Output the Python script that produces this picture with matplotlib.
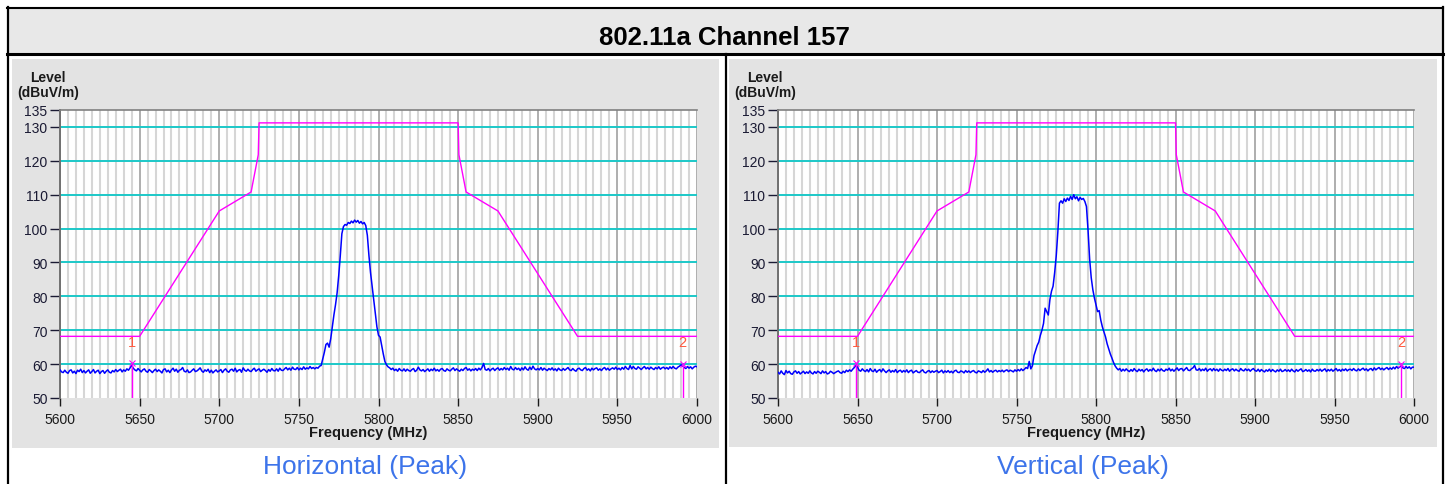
import numpy as np
import matplotlib
matplotlib.use("Agg")
from matplotlib import pyplot as plt
from matplotlib.patches import Rectangle
from matplotlib.ticker import MultipleLocator

plt.rcParams['font.family'] = ['Liberation Sans', 'DejaVu Sans']

W, H = 1451, 485

title = "802.11a Channel 157"
captions = ["Horizontal (Peak)", "Vertical (Peak)"]

# frequency axis of the traces, 1 MHz steps
freq = np.arange(5600, 6001, 1)

# horizontal polarisation trace (dBuV/m)
horiz = [
    58.3, 57.7, 57.5, 58.2, 57.6, 57.3, 58.1, 58.3, 57.4, 57.9, 57.2, 58.2, 57.8, 58.5, 57.5, 58.1, 57.4, 57.9, 58.3, 57.3,
    57.8, 58.4, 57.4, 57.9, 58.2, 57.2, 57.8, 58.1, 57.3, 57.9, 58.3, 57.6, 57.4, 58.1, 57.7, 58.4, 57.8, 58.2, 58.5, 57.7,
    58.3, 57.9, 58.6, 58.2, 58.9, 59.7, 58.8, 58.3, 58.0, 58.7, 58.2, 57.7, 58.3, 58.6, 57.9, 57.6, 58.4, 58.0, 57.5, 58.1,
    58.5, 57.8, 58.3, 57.9, 57.4, 58.4, 58.6, 57.7, 58.2, 57.5, 58.3, 58.8, 57.9, 58.5, 57.6, 58.2, 58.4, 59.0, 57.9, 57.7,
    58.3, 57.5, 57.7, 58.2, 58.6, 57.8, 58.0, 58.4, 58.9, 58.0, 57.6, 58.3, 57.9, 58.5, 57.5, 58.2, 57.4, 57.9, 58.3, 57.7,
    58.0, 58.4, 57.5, 58.2, 58.6, 57.9, 57.6, 58.3, 58.5, 57.9, 58.8, 57.7, 58.2, 58.4, 57.6, 58.9, 58.2, 57.9, 58.5, 58.0,
    57.8, 58.4, 58.8, 57.9, 58.3, 58.6, 57.8, 58.2, 58.5, 58.1, 57.6, 58.4, 57.9, 58.7, 58.1, 58.0, 58.6, 57.9, 58.8, 58.2,
    58.1, 58.6, 59.0, 58.3, 58.8, 58.2, 59.1, 58.5, 58.4, 59.0, 58.3, 58.8, 58.4, 59.2, 58.5, 58.9, 58.6, 59.3, 58.7, 59.0,
    58.6, 59.0, 58.8, 59.4, 59.6, 61.5, 63.5, 65.8, 66.2, 65.0, 67.5, 71.0, 74.5, 77.5, 81.0, 86.0, 92.0, 98.5, 100.6, 101.2,
    101.0, 101.8, 101.5, 102.2, 101.7, 102.5, 101.9, 102.4, 101.6, 102.1, 101.4, 101.8, 100.9, 98.0, 92.0, 87.0, 83.0, 79.0, 75.0, 71.0,
    68.5, 68.0, 65.5, 63.0, 60.8, 59.8, 59.2, 58.9, 58.4, 58.8, 58.1, 58.5, 57.9, 58.7, 58.2, 58.0, 58.6, 57.9, 58.5, 58.1,
    57.9, 58.4, 58.7, 57.8, 58.2, 59.1, 58.3, 58.0, 58.4, 57.8, 58.2, 58.6, 57.9, 58.5, 58.1, 58.8, 58.0, 58.4, 57.9, 58.5,
    58.7, 58.1, 57.9, 58.6, 58.2, 58.0, 58.5, 58.9, 58.1, 58.6, 58.2, 57.9, 58.5, 58.1, 58.7, 59.0, 58.2, 58.6, 58.0, 58.5,
    58.2, 58.7, 58.1, 58.8, 58.3, 59.0, 60.2, 58.4, 58.2, 58.7, 58.0, 58.5, 58.8, 58.1, 58.6, 58.9, 58.2, 58.7, 58.3, 59.0,
    58.4, 58.8, 58.2, 59.3, 58.5, 58.3, 59.0, 58.4, 58.8, 58.1, 58.9, 58.3, 59.2, 58.5, 58.2, 59.1, 58.4, 59.4, 58.6, 58.3,
    58.7, 58.3, 59.0, 58.2, 58.8, 58.4, 58.1, 58.7, 58.3, 58.9, 58.2, 58.6, 58.0, 58.8, 58.3, 58.1, 58.7, 58.2, 58.6, 59.0,
    58.3, 58.1, 58.7, 58.2, 57.9, 58.6, 58.8, 58.3, 58.1, 58.7, 59.0, 58.2, 58.6, 58.0, 58.8, 58.3, 58.7, 58.9, 58.2, 58.6,
    58.1, 58.7, 59.0, 58.3, 58.8, 58.2, 58.6, 58.9, 58.5, 59.1, 58.4, 58.8, 58.3, 59.0, 58.5, 59.3, 58.7, 58.4, 59.6, 58.6,
    59.3, 58.7, 58.5, 59.2, 58.8, 58.4, 58.9, 59.3, 58.6, 59.0, 58.5, 59.1, 58.7, 58.4, 59.0, 58.6, 59.2, 58.5, 58.9, 59.1,
    58.6, 59.0, 58.5, 59.2, 58.7, 59.3, 58.8, 58.6, 59.1, 59.4, 59.8, 59.5, 59.0, 58.7, 59.3, 58.8, 59.2, 58.6, 59.1, 59.4,
    59.2,
]

# vertical polarisation trace (dBuV/m)
vert = [
    57.6, 57.1, 58.0, 57.3, 56.9, 58.1, 57.4, 57.9, 57.2, 57.0, 57.7, 58.0, 57.3, 57.8, 57.1, 57.5, 57.9, 57.2, 57.7, 57.3,
    58.0, 57.4, 57.1, 57.8, 57.3, 57.9, 57.6, 57.2, 58.0, 57.4, 57.8, 57.1, 57.3, 57.9, 57.6, 57.2, 57.5, 57.8, 58.0, 57.5,
    57.3, 57.9, 57.5, 58.2, 57.8, 58.3, 57.9, 58.5, 59.0, 59.6, 59.1, 58.2, 57.9, 58.6, 58.1, 57.8, 58.4, 57.7, 58.7, 58.0,
    57.8, 58.5, 57.6, 58.1, 58.4, 57.7, 58.6, 58.0, 57.5, 58.0, 58.3, 57.6, 58.1, 57.7, 58.4, 57.5, 58.0, 58.2, 57.6, 58.1,
    57.7, 58.3, 57.5, 58.0, 58.2, 57.4, 57.8, 58.1, 57.6, 57.5, 58.0, 58.3, 57.6, 57.4, 57.9, 58.1, 57.5, 58.0, 57.6, 57.9,
    58.1, 57.5, 57.8, 58.2, 57.4, 58.0, 57.6, 58.1, 57.5, 57.9, 57.4, 58.0, 58.2, 57.6, 57.5, 58.0, 57.8, 57.4, 58.1, 57.6,
    58.0, 57.5, 57.9, 58.1, 57.6, 57.4, 58.0, 57.8, 57.5, 58.1, 57.6, 58.0, 58.6, 57.7, 58.1, 57.6, 58.0, 58.2, 57.7, 58.1,
    57.8, 58.2, 57.7, 58.1, 58.3, 57.8, 58.2, 58.0, 57.7, 58.3, 57.9, 58.4, 58.0, 58.6, 58.1, 58.5, 59.0, 58.7, 60.8, 58.6,
    59.5, 62.5, 64.0, 65.5, 66.5, 68.5, 70.0, 72.0, 76.5, 75.5, 74.5, 79.0, 81.5, 83.0, 87.0, 92.0, 99.0, 107.5, 108.2, 107.5,
    108.8, 108.0, 109.0, 108.3, 109.5, 108.6, 110.0, 108.8, 109.4, 108.2, 109.2, 108.6, 108.9, 108.0, 106.5, 99.5, 91.0, 85.5, 82.0, 79.5,
    77.5, 75.5, 75.8, 73.0, 71.0, 69.5, 68.0, 66.0, 64.5, 63.0, 61.8, 60.5, 59.5, 58.8, 58.3, 58.7, 57.9, 58.5, 58.0, 58.6,
    58.1, 57.8, 58.4, 57.9, 58.7, 58.1, 57.8, 58.5, 58.0, 58.4, 57.7, 58.3, 58.6, 57.9, 58.4, 58.0, 58.8, 58.1, 57.8, 58.5,
    58.0, 58.6, 58.1, 57.9, 58.5, 58.2, 58.8, 58.0, 58.5, 57.9, 58.4, 58.9, 58.1, 58.6, 58.7, 58.0, 58.5, 59.0, 58.2, 58.1,
    58.6, 58.9, 59.6, 58.3, 58.2, 58.7, 58.0, 58.5, 58.1, 58.8, 57.9, 58.4, 58.6, 58.0, 58.7, 58.1, 58.5, 57.9, 58.6, 58.2,
    58.0, 58.5, 58.1, 58.7, 57.9, 58.4, 58.6, 58.0, 58.5, 58.1, 57.9, 58.7, 58.2, 58.0, 58.6, 58.1, 58.5, 57.9, 58.4, 58.7,
    58.1, 57.9, 58.5, 57.8, 58.4, 58.0, 57.7, 58.3, 57.9, 58.5, 57.8, 58.4, 58.0, 57.7, 58.3, 57.9, 58.5, 57.8, 58.0, 58.4,
    57.9, 58.3, 57.8, 58.5, 58.0, 57.7, 58.4, 57.9, 58.3, 58.6, 57.8, 58.0, 58.4, 57.9, 58.3, 57.7, 58.5, 58.0, 57.9, 58.4,
    58.0, 58.5, 57.9, 58.3, 58.6, 57.8, 58.4, 58.0, 58.5, 57.9, 58.3, 58.7, 58.0, 58.4, 57.9, 58.5, 58.1, 58.6, 58.0, 58.4,
    58.5, 58.1, 58.7, 58.2, 58.0, 58.6, 58.1, 58.5, 58.8, 58.2, 58.6, 58.0, 58.5, 58.7, 58.1, 58.9, 58.3, 58.7, 59.0, 58.4,
    58.8, 58.3, 58.7, 59.0, 58.4, 58.9, 58.5, 59.1, 58.6, 59.3, 58.8, 59.2, 59.4, 58.9, 58.7, 59.3, 58.8, 59.2, 58.6, 59.1,
    59.1,
]

# FCC 15.407 limit line
limit_freq = [5600, 5650, 5700, 5720, 5724.5, 5725, 5850, 5850.5, 5855, 5875, 5925, 6000]
limit_level = [68.2, 68.2, 105.2, 110.8, 121.8, 131.2, 131.2, 121.8, 110.8, 105.2, 68.2, 68.2]

# marker frequencies (MHz) per panel
markers_h = [5645, 5991]
markers_v = [5649, 5992]

yticks = [50, 60, 70, 80, 90, 100, 110, 120, 130, 135]
cyan_lines = [60, 70, 80, 90, 100, 110, 120, 130]

fig = plt.figure(figsize=(W / 100, H / 100), dpi=100)

# background layer in pixel coordinates
bg = fig.add_axes([0, 0, 1, 1])
bg.set_xlim(0, W)
bg.set_ylim(H, 0)
bg.axis('off')
bg.add_patch(Rectangle((7, 8), 1436, 47, facecolor='#e8e8e8', edgecolor='none'))
bg.add_patch(Rectangle((12, 60), 707, 389, facecolor='#e3e3e3', edgecolor='none'))
bg.add_patch(Rectangle((729, 60), 708, 388, facecolor='#e3e3e3', edgecolor='none'))
bg.plot([7, 1443], [8.5, 8.5], color='black', lw=1.5)
bg.plot([7, 1443], [54.5, 54.5], color='black', lw=2.2)
bg.plot([7.5, 7.5], [8, H], color='black', lw=1.6)
bg.plot([1442.5, 1442.5], [8, H], color='black', lw=1.6)
bg.plot([725.5, 725.5], [55, H], color='black', lw=1.6)
bg.text(724.5, 38, title, ha='center', va='center', fontsize=18.5, fontweight='bold')

panels = [
    (60, 697, horiz, markers_h, captions[0], 365, 368, 48),
    (778, 1414, vert, markers_v, captions[1], 1083, 1086, 765),
]

for x0, x1, trace, marks, cap, cap_x, xl_x, lev_x in panels:
    ax = fig.add_axes([x0 / W, (H - 399) / H, (x1 - x0) / W, 288 / H])
    ax.set_facecolor('white')
    ax.set_xlim(5600, 6000)
    ax.set_ylim(50, 135)

    ax.xaxis.set_major_locator(MultipleLocator(50))
    ax.xaxis.set_minor_locator(MultipleLocator(5))
    ax.grid(axis='x', which='minor', color='#d6d6d6', lw=1.5)
    ax.grid(axis='x', which='major', color='#a8a8a8', lw=1.3)
    ax.set_axisbelow(True)
    ax.hlines(cyan_lines, 5600, 6000, color='#1cc8c8', lw=1.4, zorder=1.5)

    ax.plot(limit_freq, limit_level, color='#ff00ff', lw=1.0, zorder=3)
    ax.plot(freq, trace, color='#0000ff', lw=1.1, zorder=4)

    for i, mf in enumerate(marks):
        lv = np.interp(mf, freq, trace)
        ax.plot([mf, mf], [50, lv], color='#ff00ff', lw=1.0, zorder=5)
        ax.plot(mf, lv + 0.6, marker='x', color='#ff00ff', ms=4, mew=0.8, zorder=6)
        ax.text(mf, 66.5, str(i + 1), color='#ff5a40', fontsize=10.5,
                ha='center', va='center', zorder=6)

    ax.set_yticks(yticks)
    ax.set_yticklabels([str(t) for t in yticks])
    ax.tick_params(axis='y', length=7, width=1, pad=2, labelsize=10,
                   colors='#1a1a33')
    ax.tick_params(axis='x', which='major', length=6, width=1, pad=4,
                   labelsize=10, colors='#1a1a1a')
    ax.tick_params(axis='x', which='minor', length=0)

    for s in ['right', 'bottom']:
        ax.spines[s].set_visible(False)
    ax.spines['left'].set_color('#707070')
    ax.spines['left'].set_linewidth(1.4)
    ax.spines['top'].set_color('#808080')
    ax.spines['top'].set_linewidth(1.2)

    bg.text(lev_x, 77.5, "Level", ha='center', va='center', fontsize=10, fontweight='bold', color='#1a1a1a')
    bg.text(lev_x, 93, "(dBuV/m)", ha='center', va='center', fontsize=10, fontweight='bold', color='#1a1a1a')
    bg.text(xl_x, 433, "Frequency (MHz)", ha='center', va='center', fontsize=10.5, fontweight='bold', color='#1a1a1a')
    bg.text(cap_x, 467, cap, ha='center', va='center', fontsize=19, color='#3d74ea')

plt.savefig("out.png", dpi=100)
